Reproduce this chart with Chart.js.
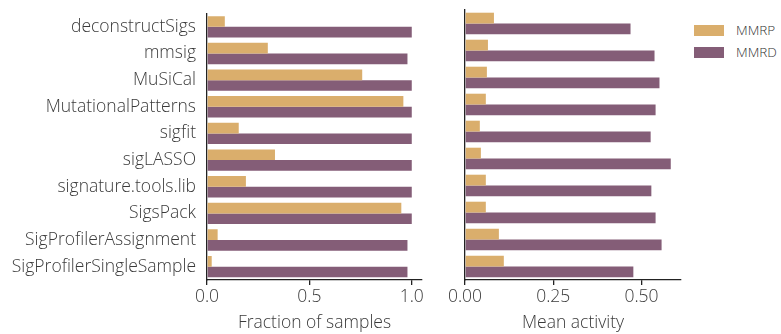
<!DOCTYPE html>
<html>
<head>
<meta charset="utf-8">
<script src="https://cdn.jsdelivr.net/npm/chart.js@4"></script>
<style>
    body { margin: 0; background: #fff; font-family: 'Open Sans', sans-serif; font-weight: 300; color: #333; }
    #wrap { position: relative; width: 781px; height: 334px; }
    canvas { position: absolute; top: 0; }
    .legend { position: absolute; left: 694px; font-size: 13.5px; }
    .legend div { display: flex; align-items: center; height: 22px; }
    .legend span.sw { display: inline-block; width: 30px; height: 11px; margin-right: 12px; }
</style>
</head>
<body>
<div id="wrap">
    <canvas id="fraction" width="430" height="334" style="left:0"></canvas>
    <canvas id="activity" width="260" height="334" style="left:430px"></canvas>
    <div class="legend" style="top:19px">
        <div><span class="sw" style="background:#DAAE6C"></span>MMRP</div>
        <div><span class="sw" style="background:#845D77"></span>MMRD</div>
    </div>
</div>
<script>
const tools = ['deconstructSigs', 'mmsig', 'MuSiCal', 'MutationalPatterns', 'sigfit', 'sigLASSO',
    'signature.tools.lib', 'SigsPack', 'SigProfilerAssignment', 'SigProfilerSingleSample'];

const fractionMMRP = [0.087, 0.297, 0.758, 0.959, 0.155, 0.332, 0.190, 0.949, 0.052, 0.023];
const fractionMMRD = [1.0, 0.979, 1.0, 1.0, 1.0, 1.0, 1.0, 1.0, 0.979, 0.979];

const activityMMRP = [0.082, 0.065, 0.062, 0.059, 0.042, 0.045, 0.059, 0.059, 0.096, 0.110];
const activityMMRD = [0.469, 0.537, 0.551, 0.540, 0.526, 0.583, 0.528, 0.540, 0.557, 0.477];

const fractionTicks = [0, 0.5, 1.0];
const activityTicks = [0, 0.25, 0.5];

const COLORS = { mmrp: '#DAAE6C', mmrd: '#845D77', axis: '#222', text: '#3a3a3a' };
const FONT = { family: "'Open Sans', sans-serif", weight: 300, size: 17.5 };

const makeChart = (canvasId, mmrp, mmrd, opts) => {
    const ctx = document.getElementById(canvasId);
    return new Chart(ctx, {
        type: 'bar',
        data: {
            labels: tools,
            datasets: [
                { label: 'MMRP', data: mmrp, backgroundColor: COLORS.mmrp },
                { label: 'MMRD', data: mmrd, backgroundColor: COLORS.mmrd }
            ]
        },
        options: {
            indexAxis: 'y',
            responsive: false,
            animation: false,
            layout: { padding: { top: 10, right: opts.padRight, left: 0, bottom: 0 } },
            plugins: { legend: { display: false }, tooltip: { enabled: false } },
            datasets: { bar: { categoryPercentage: 0.8, barPercentage: 1.0 } },
            scales: {
                x: {
                    min: 0,
                    max: opts.max,
                    afterBuildTicks: scale => { scale.ticks = opts.ticks.map(v => ({ value: v })); },
                    afterFit: scale => { scale.height = 54; },
                    grid: { display: true, drawOnChartArea: false, drawTicks: true, tickLength: 5, color: COLORS.axis, lineWidth: 1.3 },
                    border: { display: true, color: COLORS.axis, width: 1.3 },
                    ticks: {
                        padding: 2,
                        color: COLORS.text,
                        font: FONT,
                        maxRotation: 0,
                        callback: v => Number(v).toFixed(opts.digits)
                    },
                    title: {
                        display: true,
                        text: opts.title,
                        color: COLORS.text,
                        font: FONT,
                        padding: { top: 0, bottom: 0 }
                    }
                },
                y: {
                    afterFit: scale => { scale.width = opts.yWidth; },
                    grid: { display: false },
                    border: { display: true, color: COLORS.axis, width: 1.3 },
                    ticks: {
                        display: opts.showLabels,
                        padding: 3,
                        color: COLORS.text,
                        font: FONT,
                        autoSkip: false
                    }
                }
            }
        }
    });
};

makeChart('fraction', fractionMMRP, fractionMMRD, {
    max: 1.05, ticks: fractionTicks, digits: 1, title: 'Fraction of samples',
    yWidth: 207, padRight: 8, showLabels: true
});

makeChart('activity', activityMMRP, activityMMRD, {
    max: 0.612, ticks: activityTicks, digits: 2, title: 'Mean activity',
    yWidth: 35, padRight: 9, showLabels: false
});
</script>
</body>
</html>
